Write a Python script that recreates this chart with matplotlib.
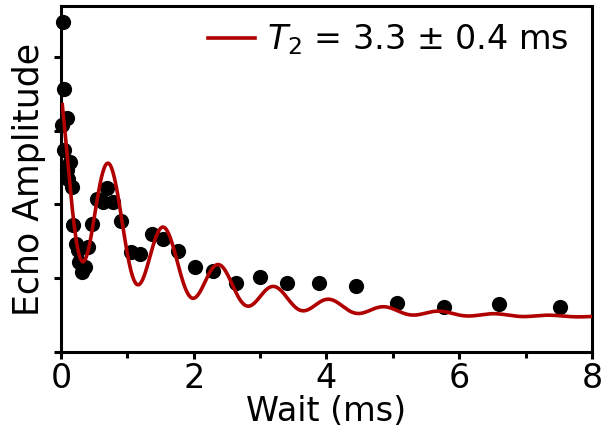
import numpy as np
import matplotlib
matplotlib.use("Agg")
import matplotlib.pyplot as plt
from matplotlib.ticker import MultipleLocator, NullFormatter

# Measured echo amplitudes (wait in ms, amplitude in arbitrary units)
wait_ms = [0.035, 0.05, 0.086, 0.02, 0.05, 0.136, 0.086, 0.11, 0.16, 0.186,
           0.22, 0.26, 0.27, 0.31, 0.36, 0.41, 0.47, 0.54, 0.64, 0.70,
           0.79, 0.91, 1.06, 1.19, 1.37, 1.53, 1.77, 2.02, 2.29, 2.64,
           3.0, 3.41, 3.89, 4.44, 5.06, 5.77, 6.6, 7.52]
amplitude = [4.48, 3.56, 3.17, 3.08, 2.74, 2.57, 2.47, 2.35, 2.24, 1.72,
             1.47, 1.38, 1.22, 1.08, 1.15, 1.43, 1.74, 2.08, 2.04, 2.23,
             2.04, 1.78, 1.36, 1.33, 1.60, 1.53, 1.37, 1.15, 1.10, 0.94,
             1.02, 0.94, 0.93, 0.89, 0.66, 0.61, 0.65, 0.61]

# Fitted model parameters
fit_offset = 0.47
fit_decay_amp = 2.13
fit_osc_amp = 1.2
fit_tau = 1.55
fit_period = 0.83
fit_phase = 0.7
fit_label = r"$T_{\mathit{2}}$ = 3.3 $\pm$ 0.4 ms"

x_ticks = [0, 2, 4, 6, 8]

t_fit = np.linspace(0.02, 8, 800)
y_fit = fit_offset + np.exp(-t_fit / fit_tau) * (
    fit_decay_amp + fit_osc_amp * np.cos(2 * np.pi * t_fit / fit_period + fit_phase))

plt.rcParams['font.family'] = ['DejaVu Sans']
plt.rcParams['mathtext.fontset'] = 'dejavusans'

fig = plt.figure(figsize=(6.05, 4.32), dpi=100)
ax = fig.add_axes([0.1008, 0.1852, 0.8777, 0.8008])

ax.scatter(wait_ms, amplitude, s=120, color='black', zorder=3, clip_on=False,
           linewidths=0)
ax.plot(t_fit, y_fit, color='#b00000', lw=2.6, zorder=4, label=fit_label)

ax.set_xlim(0, 8)
ax.set_ylim(0, 4.69)
ax.set_xticks(x_ticks)
ax.xaxis.set_minor_locator(MultipleLocator(1))
ax.set_yticks([0, 1, 2, 3, 4])
ax.yaxis.set_major_formatter(NullFormatter())

for s in ax.spines.values():
    s.set_linewidth(2.2)
ax.tick_params(axis='both', which='major', direction='out', length=5, width=2.2,
               labelsize=24, pad=2)
ax.tick_params(axis='x', which='minor', direction='out', length=4, width=2.2)

ax.set_xlabel("Wait (ms)", fontsize=24, labelpad=0)
ax.set_ylabel("Echo Amplitude", fontsize=25, labelpad=4)

leg = ax.legend(loc='upper right', bbox_to_anchor=(0.987, 1.0), frameon=False,
                fontsize=24, handlelength=1.4, handletextpad=0.35,
                borderaxespad=0.2, borderpad=0.3)

fig.savefig("out.png", dpi=100)
